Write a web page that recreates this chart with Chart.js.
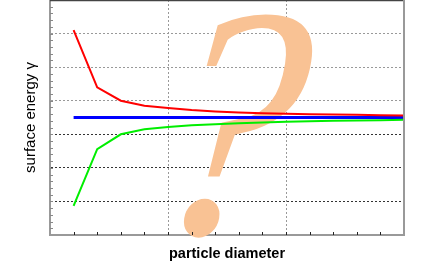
<!DOCTYPE html>
<html>
<head>
<meta charset="utf-8">
<script src="https://cdn.jsdelivr.net/npm/chart.js@4/dist/chart.umd.min.js"></script>
<style>
  html, body { margin:0; padding:0; background:#fff; }
  #wrap { width:427px; height:264px; }
</style>
</head>
<body>
<div id="wrap"><canvas id="chart"></canvas></div>
<script>
// particle diameter (arbitrary units) and surface energy of the three curves
const diameters = [0.2, 0.4, 0.6, 0.8, 1.0, 1.2, 1.4, 1.6, 1.8, 2.0, 2.2, 2.4, 2.6, 2.8, 3.0];
const redEnergy   = [6.1, 4.4, 4.0, 3.85, 3.78, 3.72, 3.68, 3.65, 3.63, 3.61, 3.6, 3.59, 3.58, 3.57, 3.56];
const greenEnergy = [0.87, 2.56, 3.0, 3.15, 3.22, 3.27, 3.3, 3.33, 3.35, 3.37, 3.39, 3.4, 3.41, 3.42, 3.43];
const blueEnergy  = [3.5, 3.5, 3.5, 3.5, 3.5, 3.5, 3.5, 3.5, 3.5, 3.5, 3.5, 3.5, 3.5, 3.5, 3.5];

const pts = arr => diameters.map((d, i) => ({x: d, y: arr[i]}));

// big question mark behind the curves + frame + minor ticks
const decor = {
  id: 'decor',
  beforeDatasetsDraw(chart) {
    const {ctx} = chart;
    ctx.save();
    ctx.fillStyle = '#f9c294';
    ctx.font = 'italic 330px "Liberation Serif", serif';
    ctx.textAlign = 'center';
    ctx.textBaseline = 'alphabetic';
    ctx.translate(212, 233);
    ctx.transform(0.9, 0, -0.16, 1, 0, 0);
    ctx.fillText('?', 0, 0);
    ctx.restore();
  },
  afterDraw(chart) {
    const {ctx, chartArea: a, scales: {x, y}} = chart;
    ctx.save();
    // frame
    ctx.strokeStyle = '#444';
    ctx.lineWidth = 1.5;
    ctx.beginPath(); ctx.moveTo(a.left, a.top + 0.5); ctx.lineTo(a.right, a.top + 0.5); ctx.stroke();
    ctx.strokeStyle = '#999';
    ctx.lineWidth = 2;
    ctx.beginPath(); ctx.moveTo(a.right, a.top); ctx.lineTo(a.right, a.bottom); ctx.stroke();
    // minor ticks on x (inside)
    ctx.strokeStyle = '#222';
    ctx.lineWidth = 1;
    for (let i = 1; i < 15; i++) {
      const px = Math.round(x.getPixelForValue(i / 5)) + 0.5;
      ctx.beginPath(); ctx.moveTo(px, a.bottom); ctx.lineTo(px, a.bottom - 3); ctx.stroke();
    }
    // minor ticks on y (inside)
    ctx.strokeStyle = '#888';
    for (let i = 1; i < 35; i++) {
      const py = Math.round(y.getPixelForValue(i / 5)) + 0.5;
      ctx.beginPath(); ctx.moveTo(a.left, py); ctx.lineTo(a.left + 3, py); ctx.stroke();
    }
    ctx.restore();
  }
};

new Chart(document.getElementById('chart'), {
  type: 'line',
  data: {
    datasets: [
      { data: pts(redEnergy), borderColor: '#ff0000', borderWidth: 2 },
      { data: pts(greenEnergy), borderColor: '#00ee00', borderWidth: 2 },
      { data: pts(blueEnergy), borderColor: '#0000ff', borderWidth: 3 }
    ]
  },
  options: {
    responsive: true,
    maintainAspectRatio: false,
    animation: false,
    layout: { padding: { top: 0, right: 23, left: 0, bottom: 0 } },
    elements: { point: { radius: 0 }, line: { tension: 0 } },
    plugins: { legend: { display: false }, tooltip: { enabled: false } },
    scales: {
      x: {
        type: 'linear', min: 0, max: 3,
        afterFit: s => { s.height = 29; },
        ticks: { display: false, stepSize: 1 },
        grid: {
          drawTicks: false,
          color: c => (c.tick && (c.tick.value === 0 || c.tick.value === 3)) ? 'rgba(0,0,0,0)' : '#999'
        },
        border: { display: true, color: '#999', width: 2, dash: [2, 2] },
        title: {
          display: true, text: 'particle diameter', color: '#000',
          font: { family: '"Liberation Sans", Arial, sans-serif', size: 14.5, weight: 'bold' },
          padding: { top: 0, bottom: 1 }
        }
      },
      y: {
        min: 0, max: 7,
        afterFit: s => { s.width = 50; },
        ticks: { display: false, stepSize: 1 },
        grid: {
          drawTicks: false,
          color: c => {
            const v = c.tick ? c.tick.value : 0;
            if (v === 0 || v === 7) return 'rgba(0,0,0,0)';
            return v >= 4 ? '#999' : '#333';
          }
        },
        border: { display: true, color: '#999', width: 2, dash: [2, 2] },
        title: {
          display: true, text: 'surface energy \u03b3', color: '#000',
          font: { family: '"Liberation Sans", Arial, sans-serif', size: 15 },
          padding: { top: 22, bottom: 0 }
        }
      }
    }
  },
  plugins: [decor]
});
</script>
</body>
</html>
